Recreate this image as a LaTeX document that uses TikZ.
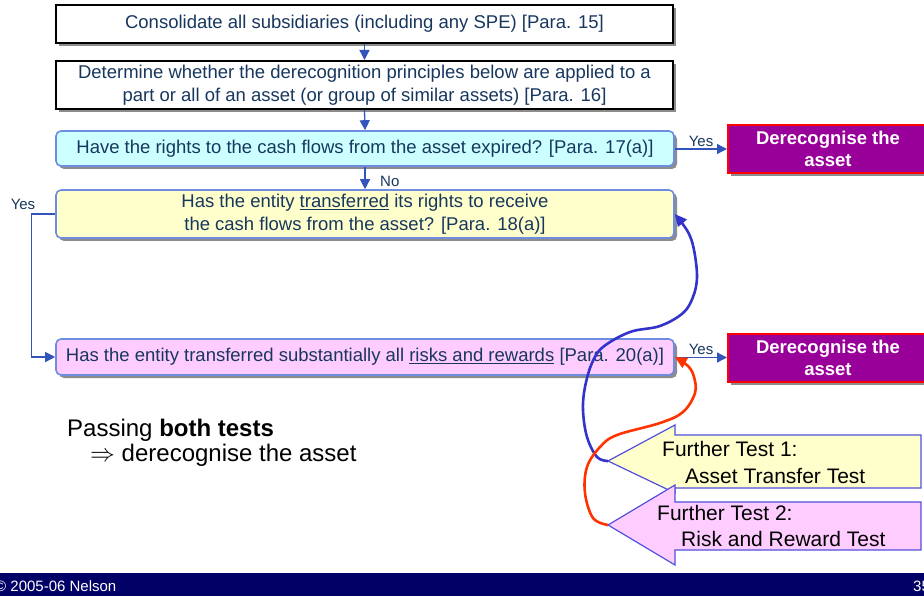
\documentclass[tikz,border=0pt]{standalone}
\usepackage{fontspec}
\setmainfont{Liberation Sans}
\usetikzlibrary{arrows.meta,shadows}
\definecolor{navytext}{RGB}{23,55,94}
\definecolor{flowblue}{RGB}{51,85,187}
\definecolor{edgeblue}{RGB}{110,140,225}
\definecolor{cyanfill}{RGB}{204,255,255}
\definecolor{yellowfill}{RGB}{255,255,204}
\definecolor{pinkfill}{RGB}{255,204,255}
\definecolor{plum}{RGB}{153,0,153}
\definecolor{footerblue}{RGB}{0,0,102}
\definecolor{loopblue}{RGB}{51,51,204}
\definecolor{loopred}{RGB}{255,51,0}
\definecolor{testedge}{RGB}{80,80,220}

\begin{document}
\begin{tikzpicture}[x=1pt,y=-1pt,
  boxshadow/.style={drop shadow={shadow xshift=3pt,shadow yshift=-3pt,fill=black!45,opacity=1}},
  boxtext/.style={font=\fontsize{18.5}{23}\selectfont, text=navytext, align=center, inner sep=2pt},
  plainbox/.style={boxtext, draw=black, line width=2pt, fill=white, minimum width=617pt, boxshadow},
  roundbox/.style={boxtext, draw=edgeblue, line width=1.6pt, rounded corners=5pt, minimum width=618pt, boxshadow},
  outcome/.style={font=\fontsize{18.5}{22}\selectfont\bfseries, text=white, align=center,
    fill=plum, draw=red, line width=2pt, minimum width=200pt, minimum height=48pt, boxshadow},
  flow/.style={draw=flowblue, line width=1.3pt, -{Triangle[length=10pt,width=10pt]}},
  smalllabel/.style={font=\fontsize{15}{17}\selectfont, text=navytext, inner sep=1pt},
  testarrow/.style={draw=testedge, line width=1.2pt},
  testtext/.style={font=\fontsize{21}{24}\selectfont, text=black, inner sep=0pt, anchor=base west},
  loopline/.style={line width=2.6pt, -{Triangle[length=12pt,width=11pt]}}
]
\clip (0,0) rectangle (924,596);
\fill[white] (0,0) rectangle (924,596);

% decision chain
\node[plainbox, minimum height=38pt] (consol) at (364.5,24)
  {Consolidate all subsidiaries (including any SPE) [Para. 15]};
\node[plainbox, minimum height=48pt] (scope) at (364.5,85)
  {Determine whether the derecognition principles below are applied to a\\part or all of an asset (or group of similar assets) [Para. 16]};
\node[roundbox, fill=cyanfill, minimum height=35pt] (expired) at (365,148.5)
  {Have the rights to the cash flows from the asset expired? [Para. 17(a)]};
\node[roundbox, fill=yellowfill, minimum height=48pt] (rights) at (365,214)
  {Has the entity \underline{transferred} its rights to receive\\the cash flows from the asset? [Para. 18(a)]};
\node[roundbox, fill=pinkfill, minimum height=36pt] (risks) at (365,357)
  {Has the entity transferred substantially all \underline{risks and rewards} [Para. 20(a)]};

\node[outcome] (derec1) at (828,149) {Derecognise the\\asset};
\node[outcome] (derec2) at (828,357.5) {Derecognise the\\asset};

% connectors
\draw[flow] (consol.south) -- (scope.north);
\draw[flow] (scope.south) -- (expired.north);
\draw[flow] (expired.south) -- (rights.north);
\node[smalllabel, anchor=west] (nolbl) at (379,181) {No};
\draw[flow] (expired.east |- derec1.west) -- (derec1.west);
\node[smalllabel] (yes1) at (701,141) {Yes};
\draw[flow] (risks.east |- derec2.west) -- (derec2.west);
\node[smalllabel] (yes2) at (701,349) {Yes};
\draw[flow] (rights.west) -- ++(-24,0) coordinate (bend) |- (risks.west);
\node[smalllabel] (yes3) at (23,204) {Yes};

% summary note
\node[font=\fontsize{24}{25}\selectfont, inner sep=0pt, anchor=north west, align=left] (pass) at (67,419)
  {Passing \textbf{both tests}\\\hspace*{23pt}$\Rightarrow$ derecognise the asset};

% further tests as block arrows
\filldraw[testarrow, fill=yellowfill] (608,461) coordinate (t1tip) -- (675,425) -- (675,435) -- (921,435)
  -- (921,488) -- (675,488) -- (675,493) -- cycle;
\node[testtext] (t1a) at (662,456) {Further Test 1:};
\node[testtext] (t1b) at (685,483) {Asset Transfer Test};
\filldraw[testarrow, fill=pinkfill] (608,525) coordinate (t2tip) -- (675,485) -- (675,502) -- (921,502)
  -- (921,550) -- (675,550) -- (675,565) -- cycle;
\node[testtext] (t2a) at (657,520) {Further Test 2:};
\node[testtext] (t2b) at (681,546) {Risk and Reward Test};

% links from the tests back to the questions
\draw[loopline, loopblue] plot[smooth, tension=0.6] coordinates {(t1tip) (597,457) (587,437) (583,410) (585,387)
  (592,363) (603,347) (630,332) (660,326) (683,313) (693,297) (697,277) (694,250) (688,232) (rights.east)};
\draw[loopline, loopred] plot[smooth, tension=0.6] coordinates {(t2tip) (593,518) (585,493) (587,467) (600,447)
  (617,435) (660,423) (683,412) (695,393) (694,377) (688,366) (risks.east)};

% footer bar
\fill[footerblue] (0,573) rectangle (924,596);
\node[font=\fontsize{15}{17}\selectfont, text=white, inner sep=0pt, anchor=base west] (copy) at (-5,591)
  {\char"00A9\ 2005-06 Nelson};
\node[font=\fontsize{15}{17}\selectfont, text=white, inner sep=0pt, anchor=base west] (pagenum) at (913,591) {35};
\end{tikzpicture}
\end{document}
